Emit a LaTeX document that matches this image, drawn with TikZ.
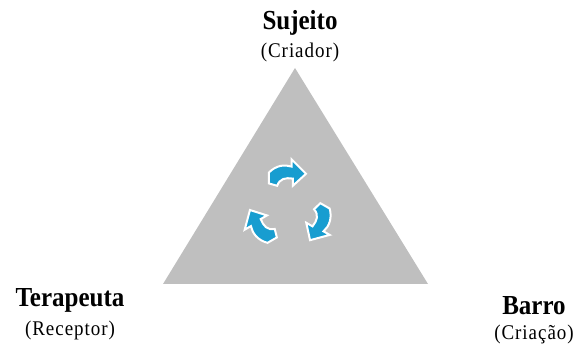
\documentclass[tikz,border=0pt]{standalone}
\usepackage{fontspec}
\setmainfont{Liberation Serif}
\usetikzlibrary{positioning}
\definecolor{clay}{RGB}{191,191,191}
\definecolor{cycleblue}{RGB}{24,157,208}

\begin{document}
\begin{tikzpicture}[
    x=1pt, y=1pt,
    role/.style={font=\bfseries\fontsize{25}{27}\selectfont, inner sep=0pt, yscale=1.1, transform shape},
    part/.style={font=\addfontfeatures{LetterSpace=5}\fontsize{19}{21}\selectfont, inner sep=0pt, yscale=1.1, transform shape},
    turn/.pic={
      \filldraw[fill=cycleblue, draw=white, line width=2pt, line join=miter]
        (-16,-7) -- (-16,2) .. controls (-10,8) and (-3,9) .. (3,7)
        -- (3,13) -- (15,1) -- (4,-9) -- (4,-3)
        .. controls (-2,-2) and (-7,-3) .. (-9,-9) -- cycle;
    }
]

\coordinate (top) at (295,277);
\coordinate (left) at (163,61);
\coordinate (right) at (428,61);

% triangle
\fill[clay] (top) -- (left) -- (right) -- cycle;

% cycle arrows
\pic[scale=1.2] at (288,170) {turn};
\pic[scale=1.2, rotate=-120] at (318,121) {turn};
\pic[scale=1.2, rotate=120] at (260,120) {turn};

% labels
\node[role] (sujeito) at (300,322) {Sujeito};
\node[part, below=7pt of sujeito] (criador) {(Criador)};

\node[role] (terapeuta) at (70,45) {Terapeuta};
\node[part, below=9pt of terapeuta] (receptor) {(Receptor)};

\node[role] (barro) at (534,39) {Barro};
\node[part, below=9pt of barro] (criacao) {(Criação)};

\path[use as bounding box] (0,0) rectangle (575,345);

\end{tikzpicture}
\end{document}
